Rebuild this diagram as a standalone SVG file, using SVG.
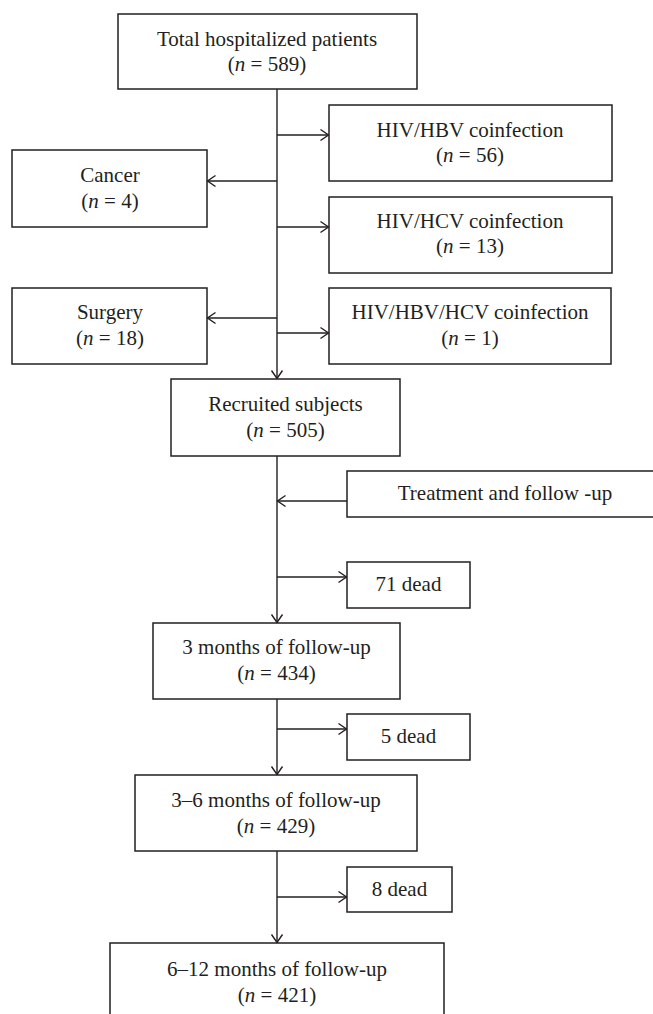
<svg xmlns="http://www.w3.org/2000/svg" width="653" height="1014" viewBox="0 0 653 1014">
<defs>
<style>
.box{fill:#fff;stroke:#231f20;stroke-width:1.5}
.t{font-family:"Liberation Serif","Times New Roman",serif;font-size:21px;fill:#231f20;text-anchor:middle}
.i{font-style:italic}
.c{fill:none;stroke:#231f20;stroke-width:1.4}
</style>
<marker id="ah" viewBox="-10 -7 12 14" markerWidth="12" markerHeight="14" refX="0" refY="0" orient="auto" markerUnits="userSpaceOnUse">
<path d="M-8,-5.5 L0,0 L-8,5.5" fill="none" stroke="#231f20" stroke-width="1.4"/>
</marker>
</defs>
<rect width="653" height="1014" fill="#fff"/>
<g id="connectors">
<line class="c" x1="277" y1="89" x2="277" y2="378.5" marker-end="url(#ah)"/>
<line class="c" x1="277" y1="135" x2="328.5" y2="135" marker-end="url(#ah)"/>
<line class="c" x1="277" y1="181" x2="207.5" y2="181" marker-end="url(#ah)"/>
<line class="c" x1="277" y1="227" x2="328.5" y2="227" marker-end="url(#ah)"/>
<line class="c" x1="277" y1="318" x2="207.5" y2="318" marker-end="url(#ah)"/>
<line class="c" x1="277" y1="333" x2="328.5" y2="333" marker-end="url(#ah)"/>
<line class="c" x1="277" y1="456" x2="277" y2="622.5" marker-end="url(#ah)"/>
<line class="c" x1="347" y1="501" x2="277.5" y2="501" marker-end="url(#ah)"/>
<line class="c" x1="277" y1="577" x2="346.5" y2="577" marker-end="url(#ah)"/>
<line class="c" x1="277" y1="699" x2="277" y2="774.5" marker-end="url(#ah)"/>
<line class="c" x1="277" y1="729" x2="346.5" y2="729" marker-end="url(#ah)"/>
<line class="c" x1="277" y1="851" x2="277" y2="942.5" marker-end="url(#ah)"/>
<line class="c" x1="277" y1="897" x2="346.5" y2="897" marker-end="url(#ah)"/>
</g>
<g id="total">
<rect class="box" x="118" y="14" width="299" height="75"/>
<text class="t" x="267" y="46">Total hospitalized patients</text>
<text class="t" x="267" y="71">(<tspan class="i">n</tspan> = 589)</text>
</g>
<g id="hbv">
<rect class="box" x="329" y="105" width="283" height="76"/>
<text class="t" x="470" y="137">HIV/HBV coinfection</text>
<text class="t" x="470" y="162">(<tspan class="i">n</tspan> = 56)</text>
</g>
<g id="cancer">
<rect class="box" x="12" y="150" width="195" height="77"/>
<text class="t" x="110" y="182">Cancer</text>
<text class="t" x="110" y="208">(<tspan class="i">n</tspan> = 4)</text>
</g>
<g id="hcv">
<rect class="box" x="329" y="197" width="283" height="76"/>
<text class="t" x="470" y="228">HIV/HCV coinfection</text>
<text class="t" x="470" y="253">(<tspan class="i">n</tspan> = 13)</text>
</g>
<g id="surgery">
<rect class="box" x="12" y="288" width="195" height="76"/>
<text class="t" x="110" y="319">Surgery</text>
<text class="t" x="110" y="345">(<tspan class="i">n</tspan> = 18)</text>
</g>
<g id="hbvhcv">
<rect class="box" x="329" y="288" width="282" height="76"/>
<text class="t" x="470" y="319">HIV/HBV/HCV coinfection</text>
<text class="t" x="470" y="345">(<tspan class="i">n</tspan> = 1)</text>
</g>
<g id="recruited">
<rect class="box" x="171" y="379" width="229" height="77"/>
<text class="t" x="285.5" y="411">Recruited subjects</text>
<text class="t" x="285.5" y="437">(<tspan class="i">n</tspan> = 505)</text>
</g>
<g id="treatment">
<rect class="box" x="347" y="471" width="315" height="46"/>
<text class="t" x="505" y="500">Treatment and follow -up</text>
</g>
<g id="dead71">
<rect class="box" x="347" y="562" width="123" height="46"/>
<text class="t" x="408.5" y="591">71 dead</text>
</g>
<g id="m3">
<rect class="box" x="153" y="623" width="247" height="76"/>
<text class="t" x="276.5" y="654">3 months of follow-up</text>
<text class="t" x="276.5" y="680">(<tspan class="i">n</tspan> = 434)</text>
</g>
<g id="dead5">
<rect class="box" x="347" y="714" width="123" height="46"/>
<text class="t" x="408.5" y="743">5 dead</text>
</g>
<g id="m36">
<rect class="box" x="135" y="775" width="282" height="76"/>
<text class="t" x="276" y="807">3–6 months of follow-up</text>
<text class="t" x="276" y="833">(<tspan class="i">n</tspan> = 429)</text>
</g>
<g id="dead8">
<rect class="box" x="347" y="867" width="105" height="45"/>
<text class="t" x="399.5" y="896">8 dead</text>
</g>
<g id="m612">
<rect class="box" x="110" y="943" width="334" height="80"/>
<text class="t" x="277" y="976">6–12 months of follow-up</text>
<text class="t" x="277" y="1002">(<tspan class="i">n</tspan> = 421)</text>
</g>
</svg>
